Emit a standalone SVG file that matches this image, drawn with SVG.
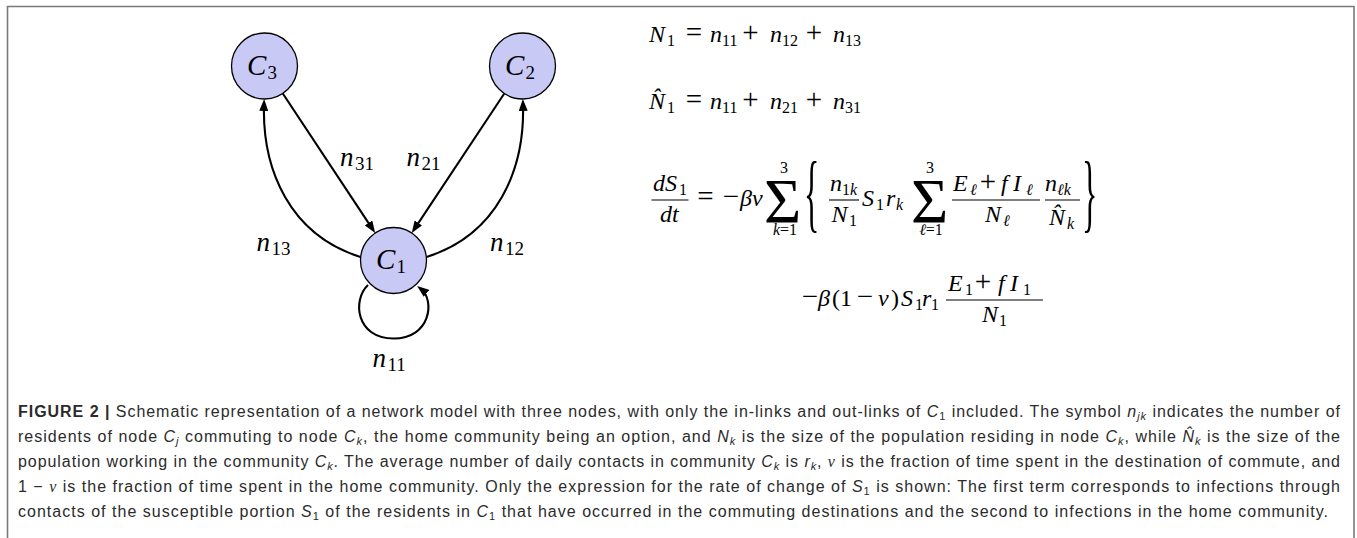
<svg xmlns="http://www.w3.org/2000/svg" width="1357" height="538" viewBox="0 0 1357 538">
<style>
.frame{fill:none;stroke:#7a7a7a;stroke-width:1.6}
.node circle{fill:#c9c9f6;stroke:#000;stroke-width:1.3}
.edge{fill:none;stroke:#000;stroke-width:2.1}
.gl{font-family:"Liberation Serif","DejaVu Serif",serif;font-size:29px;font-style:italic;fill:#000}
.el{font-family:"Liberation Serif","DejaVu Serif",serif;font-size:27px;font-style:italic;fill:#000}
.gs{font-size:19px;font-style:normal}
.m{font-family:"Liberation Serif","DejaVu Serif",serif;font-size:24px;fill:#000}
.i{font-style:italic}
.s{font-size:16px}
.op{font-family:"Liberation Serif","DejaVu Serif",serif;font-size:29px;fill:#000;text-anchor:middle}
.lim{font-family:"Liberation Serif","DejaVu Serif",serif;font-size:16px;fill:#000;text-anchor:middle}
.sig{font-family:"Liberation Serif","DejaVu Serif",serif;font-size:64px;fill:#000}
.br{font-family:"Liberation Serif","DejaVu Serif",serif;font-size:32px;fill:#000}
.bar{stroke:#000;stroke-width:1.1}
.cap{font-family:"Liberation Sans",Arial,sans-serif;font-size:16px;fill:#2b2b2b}
.ci{font-style:italic}
.cs{font-size:11px}
.nu{font-family:"Liberation Serif",serif;font-style:italic}
</style>
<defs>
<marker id="arr" markerUnits="userSpaceOnUse" markerWidth="12" markerHeight="9" refX="7" refY="4.5" orient="auto">
<path d="M0,0 L12,4.5 L0,9 z" fill="#000"/>
</marker>
</defs>
<rect width="1357" height="538" fill="#fff"/>
<path class="frame" d="M7.5,538 V6.5 H1354 V538"/>

<g id="connectors">
<path class="edge" marker-end="url(#arr)" d="M282.8,93.5 L372.4,228.8"/>
<path class="edge" marker-end="url(#arr)" d="M504.3,93.5 L414.5,228.8"/>
<path class="edge" marker-end="url(#arr)" d="M360.5,257 C290,235 262,170 264,104"/>
<path class="edge" marker-end="url(#arr)" d="M426.5,257 C497,235 525,170 523,104"/>
<path class="edge" marker-end="url(#arr)" d="M368,285 C352,300 356,338.5 393.5,338.5 C431,338.5 435,300 421,289"/>
<text class="el" x="340" y="166">n<tspan class="gs" x="355" y="170">31</tspan></text>
<text class="el" x="406.5" y="166">n<tspan class="gs" x="421.5" y="170">21</tspan></text>
<text class="el" x="256.5" y="251">n<tspan class="gs" x="271.5" y="255">13</tspan></text>
<text class="el" x="490" y="251">n<tspan class="gs" x="505" y="255">12</tspan></text>
<text class="el" x="372.5" y="367">n<tspan class="gs" x="387.5" y="371">11</tspan></text>
</g>

<g id="C3" class="node"><circle cx="264.5" cy="66" r="33"/><text class="gl" x="247" y="75">C<tspan class="gs" x="267.5" y="79">3</tspan></text></g>
<g id="C2" class="node"><circle cx="522.5" cy="66" r="33"/><text class="gl" x="505" y="75">C<tspan class="gs" x="525.5" y="79">2</tspan></text></g>
<g id="C1" class="node"><circle cx="393.5" cy="260.5" r="33"/><text class="gl" x="376" y="269">C<tspan class="gs" x="396.5" y="273">1</tspan></text></g>

<g id="equations">
<text class="m"><tspan class="i" x="649" y="42">N</tspan><tspan class="s" x="667" y="46">1</tspan><tspan class="i" x="710" y="42">n</tspan><tspan class="s" x="722" y="46">11</tspan><tspan class="i" x="770" y="42">n</tspan><tspan class="s" x="782" y="46">12</tspan><tspan class="i" x="833" y="42">n</tspan><tspan class="s" x="845" y="46">13</tspan></text>
<text class="op" x="694" y="42">=</text><text class="op" x="750.5" y="42">+</text><text class="op" x="814" y="42">+</text>

<text class="m"><tspan class="i" x="649" y="109">N&#x302;</tspan><tspan class="s" x="667" y="113">1</tspan><tspan class="i" x="710" y="109">n</tspan><tspan class="s" x="722" y="113">11</tspan><tspan class="i" x="770" y="109">n</tspan><tspan class="s" x="782" y="113">21</tspan><tspan class="i" x="833" y="109">n</tspan><tspan class="s" x="845" y="113">31</tspan></text>
<text class="op" x="694" y="109">=</text><text class="op" x="750.5" y="109">+</text><text class="op" x="814" y="109">+</text>

<text class="m"><tspan class="i" x="653" y="191">dS</tspan><tspan class="s" x="679" y="195">1</tspan></text>
<line class="bar" x1="651.5" y1="200" x2="688.5" y2="200"/>
<text class="m i" x="660" y="222">dt</text>
<text class="op" x="705.5" y="206">=</text>
<text class="op" x="731" y="206">−</text>
<text class="m i" x="740" y="206">βν</text>
<text class="sig" x="764" y="223">Σ</text>
<text class="lim" x="784" y="173">3</text>
<text class="lim" x="785" y="235"><tspan class="i">k</tspan>=1</text>
<text class="br" transform="translate(804,220.7) scale(1,2.71)">{</text>
<text class="m"><tspan class="i" x="830" y="191">n</tspan><tspan class="s" x="842" y="195">1</tspan><tspan class="s i" x="850" y="195">k</tspan></text>
<line class="bar" x1="829" y1="200" x2="859" y2="200"/>
<text class="m"><tspan class="i" x="831.5" y="222">N</tspan><tspan class="s" x="849" y="226">1</tspan></text>
<text class="m"><tspan class="i" x="862" y="206">S</tspan><tspan class="s" x="876" y="210">1</tspan><tspan class="i" x="886" y="206">r</tspan><tspan class="s i" x="896" y="210">k</tspan></text>
<text class="sig" x="911" y="223">Σ</text>
<text class="lim" x="930" y="173">3</text>
<text class="lim" x="931" y="235"><tspan class="i">ℓ</tspan>=1</text>
<text class="m"><tspan class="i" x="953" y="191">E</tspan><tspan class="s i" x="970" y="195">ℓ</tspan><tspan class="i" x="1001" y="191">f</tspan><tspan class="i" x="1013" y="191">I</tspan><tspan class="s i" x="1026" y="195">ℓ</tspan></text>
<text class="op" x="988" y="191">+</text>
<line class="bar" x1="952" y1="200" x2="1040" y2="200"/>
<text class="m"><tspan class="i" x="985" y="222">N</tspan><tspan class="s i" x="1003" y="226">ℓ</tspan></text>
<text class="m"><tspan class="i" x="1045" y="191">n</tspan><tspan class="s i" x="1057" y="195">ℓk</tspan></text>
<line class="bar" x1="1045" y1="200" x2="1080" y2="200"/>
<text class="m"><tspan class="i" x="1049" y="225">N&#x302;</tspan><tspan class="s i" x="1067" y="229">k</tspan></text>
<text class="br" transform="translate(1082,220.7) scale(1,2.71)">}</text>

<text class="op" x="810" y="306">−</text>
<text class="m"><tspan class="i" x="818" y="306">β</tspan><tspan x="832" y="306">(1</tspan><tspan class="i" x="878" y="306">ν</tspan><tspan x="891" y="306">)</tspan><tspan class="i" x="901" y="306">S</tspan><tspan class="s" x="915" y="310">1</tspan><tspan class="i" x="922" y="306">r</tspan><tspan class="s" x="931" y="310">1</tspan></text>
<text class="op" x="865" y="306">−</text>
<text class="m"><tspan class="i" x="948" y="291">E</tspan><tspan class="s" x="965" y="295">1</tspan><tspan class="i" x="998" y="291">f</tspan><tspan class="i" x="1010" y="291">I</tspan><tspan class="s" x="1023" y="295">1</tspan></text>
<text class="op" x="983" y="291">+</text>
<line class="bar" x1="946" y1="300" x2="1043" y2="300"/>
<text class="m"><tspan class="i" x="982" y="322">N</tspan><tspan class="s" x="999" y="326">1</tspan></text>
</g>

<g id="caption">
<text class="cap" x="18" y="417" textLength="1322" lengthAdjust="spacing"><tspan font-weight="bold">FIGURE 2 |</tspan> Schematic representation of a network model with three nodes, with only the in-links and out-links of <tspan class="ci">C</tspan><tspan class="cs" dy="3">1</tspan><tspan dy="-3"> included. The symbol </tspan><tspan class="ci">n</tspan><tspan class="cs ci" dy="3">jk</tspan><tspan dy="-3"> indicates the number of</tspan></text>
<text class="cap" x="18" y="442" textLength="1322" lengthAdjust="spacing">residents of node <tspan class="ci">C</tspan><tspan class="cs ci" dy="3">j</tspan><tspan dy="-3"> commuting to node </tspan><tspan class="ci">C</tspan><tspan class="cs ci" dy="3">k</tspan><tspan dy="-3">, the home community being an option, and </tspan><tspan class="ci">N</tspan><tspan class="cs ci" dy="3">k</tspan><tspan dy="-3"> is the size of the population residing in node </tspan><tspan class="ci">C</tspan><tspan class="cs ci" dy="3">k</tspan><tspan dy="-3">, while </tspan><tspan class="ci">N&#x302;</tspan><tspan class="cs ci" dy="3">k</tspan><tspan dy="-3"> is the size of the</tspan></text>
<text class="cap" x="18" y="467" textLength="1322" lengthAdjust="spacing">population working in the community <tspan class="ci">C</tspan><tspan class="cs ci" dy="3">k</tspan><tspan dy="-3">. The average number of daily contacts in community </tspan><tspan class="ci">C</tspan><tspan class="cs ci" dy="3">k</tspan><tspan dy="-3"> is </tspan><tspan class="ci">r</tspan><tspan class="cs ci" dy="3">k</tspan><tspan dy="-3">, </tspan><tspan class="nu">ν</tspan> is the fraction of time spent in the destination of commute, and</text>
<text class="cap" x="18" y="492" textLength="1322" lengthAdjust="spacing">1 − <tspan class="nu">ν</tspan> is the fraction of time spent in the home community. Only the expression for the rate of change of <tspan class="ci">S</tspan><tspan class="cs" dy="3">1</tspan><tspan dy="-3"> is shown: The first term corresponds to infections through</tspan></text>
<text class="cap" x="18" y="517" textLength="1310" lengthAdjust="spacing">contacts of the susceptible portion <tspan class="ci">S</tspan><tspan class="cs" dy="3">1</tspan><tspan dy="-3"> of the residents in </tspan><tspan class="ci">C</tspan><tspan class="cs" dy="3">1</tspan><tspan dy="-3"> that have occurred in the commuting destinations and the second to infections in the home community.</tspan></text>
</g>
</svg>
